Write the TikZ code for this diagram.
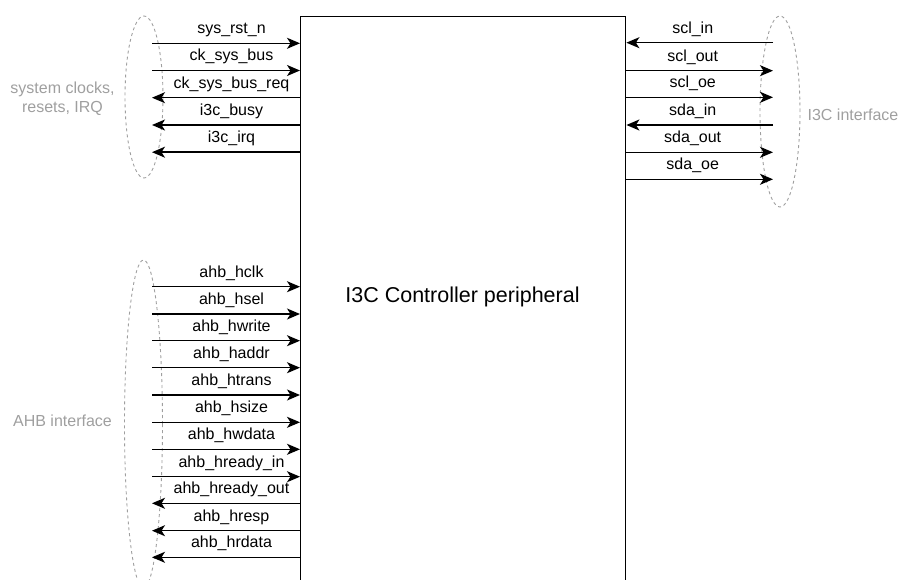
\documentclass[tikz,border=0pt]{standalone}
\usepackage{fontspec}
\setmainfont{Liberation Sans}
\usetikzlibrary{arrows.meta,positioning,shapes.geometric}

\begin{document}
\begin{tikzpicture}[
x=1pt, y=-1pt,
block/.style={draw, line width=1.4pt, minimum width=325pt, minimum height=600pt, anchor=north west, inner sep=0pt},
sig/.style={line width=1.4pt, -{Stealth[length=13pt, width=11pt, inset=3.5pt]}},
lbl/.style={font=\fontsize{16}{19}\selectfont, midway, above=4.5pt, inner sep=1pt},
lblL/.style={lbl, xshift=5.5pt},
lblR/.style={lbl, xshift=-7pt},
grp/.style={draw=gray!75, dash pattern=on 3pt off 3pt, line width=0.9pt, ellipse, inner sep=0pt},
grptext/.style={text=gray!75, font=\fontsize{16}{19}\selectfont, align=center}
]
\useasboundingbox (0,0) rectangle (900,580);
\clip (0,0) rectangle (900,580);

% controller block
\node[block] (ctrl) at (300,16) {};
\node[font=\fontsize{21.5}{26}\selectfont] (ctrltext) at (462.5,297) {I3C Controller peripheral};

% signal group outlines
\node[grp, minimum width=38pt, minimum height=162pt] (sysgrp) at (144,97) {};
\node[grp, minimum width=40pt, minimum height=191pt] (i3cgrp) at (780,111.5) {};
\node[grp, minimum width=38pt, minimum height=328pt] (ahbgrp) at (143.5,424) {};
\node[grptext] (systext) at (62.5,99) {system clocks,\\resets, IRQ};
\node[grptext] (i3ctext) at (853,115) {I3C interface};
\node[grptext] (ahbtext) at (62.5,421) {AHB interface};

% system clocks, resets, IRQ
\coordinate (rst) at (152,43.3);
\coordinate (cksys) at (152,70.5);
\coordinate (ckreq) at (152,97.7);
\coordinate (busy) at (152,125);
\coordinate (irq) at (152,152.2);
\draw[sig] (rst) -- node[lblL]{sys\_rst\_n} (rst -| ctrl.west);
\draw[sig] (cksys) -- node[lblL]{ck\_sys\_bus} (cksys -| ctrl.west);
\draw[sig] (ckreq -| ctrl.west) -- node[lblL]{ck\_sys\_bus\_req} (ckreq);
\draw[sig] (busy -| ctrl.west) -- node[lblL]{i3c\_busy} (busy);
\draw[sig] (irq -| ctrl.west) -- node[lblL]{i3c\_irq} (irq);

% I3C interface
\coordinate (sclin) at (773,42.7);
\coordinate (sclout) at (773,70.7);
\coordinate (scloe) at (773,97.3);
\coordinate (sdain) at (773,125);
\coordinate (sdaout) at (773,152.3);
\coordinate (sdaoe) at (773,179.3);
\draw[sig] (sclin) -- node[lblR]{scl\_in} (sclin -| ctrl.east);
\draw[sig] (sclout -| ctrl.east) -- node[lblR]{scl\_out} (sclout);
\draw[sig] (scloe -| ctrl.east) -- node[lblR]{scl\_oe} (scloe);
\draw[sig] (sdain) -- node[lblR]{sda\_in} (sdain -| ctrl.east);
\draw[sig] (sdaout -| ctrl.east) -- node[lblR]{sda\_out} (sdaout);
\draw[sig] (sdaoe -| ctrl.east) -- node[lblR]{sda\_oe} (sdaoe);

% AHB interface
\coordinate (hclk) at (152,286.7);
\coordinate (hsel) at (152,314);
\coordinate (hwrite) at (152,340.7);
\coordinate (haddr) at (152,367.7);
\coordinate (htrans) at (152,395);
\coordinate (hsize) at (152,422.3);
\coordinate (hwdata) at (152,449.3);
\coordinate (hrdyin) at (152,476.7);
\coordinate (hrdyout) at (152,503.3);
\coordinate (hresp) at (152,530.7);
\coordinate (hrdata) at (152,557.3);
\draw[sig] (hclk) -- node[lblL]{ahb\_hclk} (hclk -| ctrl.west);
\draw[sig] (hsel) -- node[lblL]{ahb\_hsel} (hsel -| ctrl.west);
\draw[sig] (hwrite) -- node[lblL]{ahb\_hwrite} (hwrite -| ctrl.west);
\draw[sig] (haddr) -- node[lblL]{ahb\_haddr} (haddr -| ctrl.west);
\draw[sig] (htrans) -- node[lblL]{ahb\_htrans} (htrans -| ctrl.west);
\draw[sig] (hsize) -- node[lblL]{ahb\_hsize} (hsize -| ctrl.west);
\draw[sig] (hwdata) -- node[lblL]{ahb\_hwdata} (hwdata -| ctrl.west);
\draw[sig] (hrdyin) -- node[lblL]{ahb\_hready\_in} (hrdyin -| ctrl.west);
\draw[sig] (hrdyout -| ctrl.west) -- node[lblL]{ahb\_hready\_out} (hrdyout);
\draw[sig] (hresp -| ctrl.west) -- node[lblL]{ahb\_hresp} (hresp);
\draw[sig] (hrdata -| ctrl.west) -- node[lblL]{ahb\_hrdata} (hrdata);
\end{tikzpicture}
\end{document}
